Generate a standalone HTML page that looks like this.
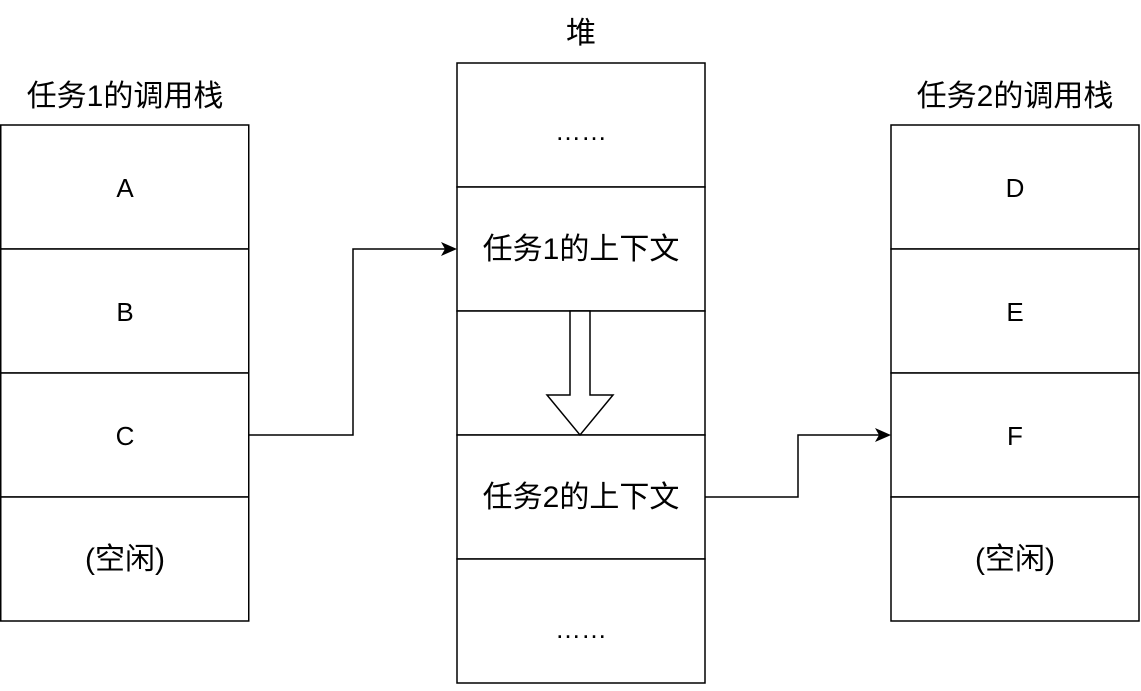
<!DOCTYPE html>
<html><head><meta charset="utf-8"><style>
body{margin:0;background:#fff}
svg text{font-family:"Liberation Sans","Noto Sans CJK SC",sans-serif;font-size:26px;fill:#000}
svg text.c{font-size:30px}
</style></head><body>
<svg width="1141" height="686" viewBox="0 0 1141 686" xmlns="http://www.w3.org/2000/svg">
<g fill="#fff" stroke="#000" stroke-width="1.5">
<rect x="0.75" y="125" width="248" height="124"/><rect x="0.75" y="249" width="248" height="124"/><rect x="0.75" y="373" width="248" height="124"/><rect x="0.75" y="497" width="248" height="124"/>
<rect x="457" y="63" width="248" height="124"/><rect x="457" y="187" width="248" height="124"/><rect x="457" y="311" width="248" height="124"/><rect x="457" y="435" width="248" height="124"/><rect x="457" y="559" width="248" height="124"/>
<rect x="891" y="125" width="248" height="124"/><rect x="891" y="249" width="248" height="124"/><rect x="891" y="373" width="248" height="124"/><rect x="891" y="497" width="248" height="124"/>
<path d="M570 311 V395 H547 L580 435 L613 395 H590 V311 Z"/>
</g>
<g fill="none" stroke="#000" stroke-width="1.5">
<path d="M249 435 H353 V249 H447"/>
<path d="M705 497 H798 V435 H881"/>
</g>
<path d="M457 249 L441 242 L445 249 L441 256 Z"/>
<path d="M891 435 L875 428 L879 435 L875 442 Z"/>
<g text-anchor="middle">
<text class="c" x="125" y="106">任务1的调用栈</text>
<text class="c" x="581" y="43">堆</text>
<text class="c" x="1015" y="106">任务2的调用栈</text>
<text x="125" y="197">A</text><text x="125" y="321">B</text><text x="125" y="445">C</text><text class="c" x="125" y="569">(空闲)</text>
<text x="581" y="140">……</text><text class="c" x="581" y="259">任务1的上下文</text><text class="c" x="581" y="507">任务2的上下文</text><text x="581" y="638">……</text>
<text x="1015" y="197">D</text><text x="1015" y="321">E</text><text x="1015" y="445">F</text><text class="c" x="1015" y="569">(空闲)</text>
</g>
</svg>
</body></html>
